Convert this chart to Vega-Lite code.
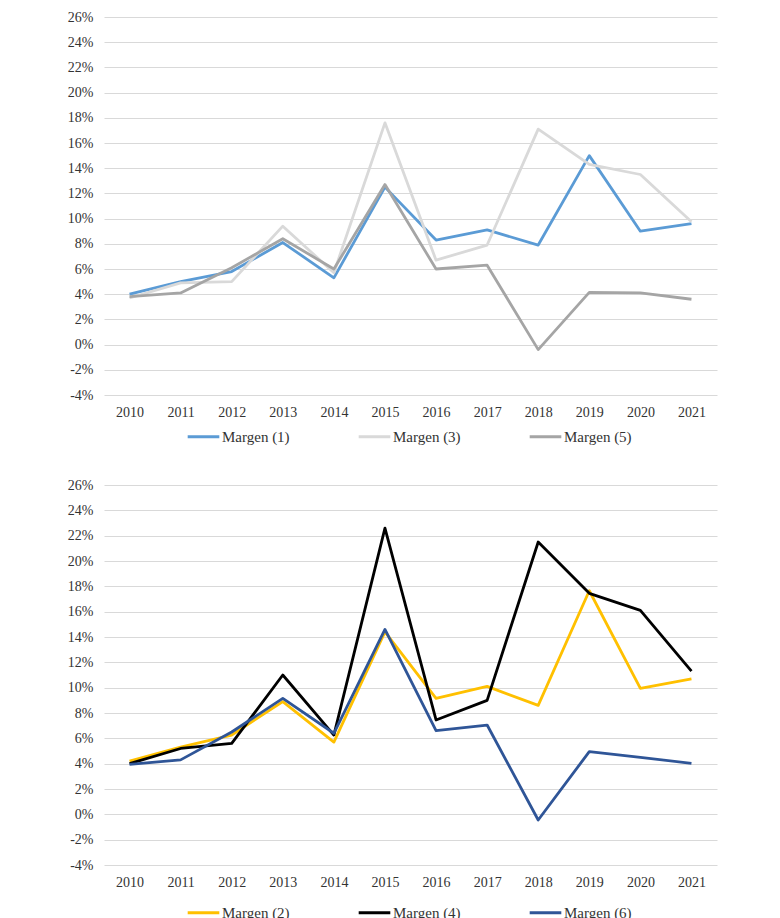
{
  "$schema": "https://vega.github.io/schema/vega-lite/v6.json",
  "padding": {"left": 67, "top": 10, "right": 10, "bottom": 0},
  "background": "white",
  "datasets": {
    "odd": [
      {"year": "2010", "serie": "Margen (1)", "margen": 0.040},
      {"year": "2011", "serie": "Margen (1)", "margen": 0.050},
      {"year": "2012", "serie": "Margen (1)", "margen": 0.058},
      {"year": "2013", "serie": "Margen (1)", "margen": 0.081},
      {"year": "2014", "serie": "Margen (1)", "margen": 0.053},
      {"year": "2015", "serie": "Margen (1)", "margen": 0.125},
      {"year": "2016", "serie": "Margen (1)", "margen": 0.083},
      {"year": "2017", "serie": "Margen (1)", "margen": 0.091},
      {"year": "2018", "serie": "Margen (1)", "margen": 0.079},
      {"year": "2019", "serie": "Margen (1)", "margen": 0.150},
      {"year": "2020", "serie": "Margen (1)", "margen": 0.090},
      {"year": "2021", "serie": "Margen (1)", "margen": 0.096},
      {"year": "2010", "serie": "Margen (3)", "margen": 0.037},
      {"year": "2011", "serie": "Margen (3)", "margen": 0.049},
      {"year": "2012", "serie": "Margen (3)", "margen": 0.050},
      {"year": "2013", "serie": "Margen (3)", "margen": 0.094},
      {"year": "2014", "serie": "Margen (3)", "margen": 0.057},
      {"year": "2015", "serie": "Margen (3)", "margen": 0.176},
      {"year": "2016", "serie": "Margen (3)", "margen": 0.067},
      {"year": "2017", "serie": "Margen (3)", "margen": 0.079},
      {"year": "2018", "serie": "Margen (3)", "margen": 0.171},
      {"year": "2019", "serie": "Margen (3)", "margen": 0.143},
      {"year": "2020", "serie": "Margen (3)", "margen": 0.135},
      {"year": "2021", "serie": "Margen (3)", "margen": 0.0975},
      {"year": "2010", "serie": "Margen (5)", "margen": 0.038},
      {"year": "2011", "serie": "Margen (5)", "margen": 0.041},
      {"year": "2012", "serie": "Margen (5)", "margen": 0.061},
      {"year": "2013", "serie": "Margen (5)", "margen": 0.084},
      {"year": "2014", "serie": "Margen (5)", "margen": 0.060},
      {"year": "2015", "serie": "Margen (5)", "margen": 0.127},
      {"year": "2016", "serie": "Margen (5)", "margen": 0.060},
      {"year": "2017", "serie": "Margen (5)", "margen": 0.063},
      {"year": "2018", "serie": "Margen (5)", "margen": -0.004},
      {"year": "2019", "serie": "Margen (5)", "margen": 0.0415},
      {"year": "2020", "serie": "Margen (5)", "margen": 0.041},
      {"year": "2021", "serie": "Margen (5)", "margen": 0.036}
    ],
    "even": [
      {"year": "2010", "serie": "Margen (2)", "margen": 0.042},
      {"year": "2011", "serie": "Margen (2)", "margen": 0.053},
      {"year": "2012", "serie": "Margen (2)", "margen": 0.0626},
      {"year": "2013", "serie": "Margen (2)", "margen": 0.089},
      {"year": "2014", "serie": "Margen (2)", "margen": 0.057},
      {"year": "2015", "serie": "Margen (2)", "margen": 0.144},
      {"year": "2016", "serie": "Margen (2)", "margen": 0.0915},
      {"year": "2017", "serie": "Margen (2)", "margen": 0.101},
      {"year": "2018", "serie": "Margen (2)", "margen": 0.086},
      {"year": "2019", "serie": "Margen (2)", "margen": 0.1765},
      {"year": "2020", "serie": "Margen (2)", "margen": 0.0995},
      {"year": "2021", "serie": "Margen (2)", "margen": 0.107},
      {"year": "2010", "serie": "Margen (4)", "margen": 0.040},
      {"year": "2011", "serie": "Margen (4)", "margen": 0.052},
      {"year": "2012", "serie": "Margen (4)", "margen": 0.056},
      {"year": "2013", "serie": "Margen (4)", "margen": 0.110},
      {"year": "2014", "serie": "Margen (4)", "margen": 0.0626},
      {"year": "2015", "serie": "Margen (4)", "margen": 0.226},
      {"year": "2016", "serie": "Margen (4)", "margen": 0.0745},
      {"year": "2017", "serie": "Margen (4)", "margen": 0.090},
      {"year": "2018", "serie": "Margen (4)", "margen": 0.215},
      {"year": "2019", "serie": "Margen (4)", "margen": 0.1745},
      {"year": "2020", "serie": "Margen (4)", "margen": 0.161},
      {"year": "2021", "serie": "Margen (4)", "margen": 0.113},
      {"year": "2010", "serie": "Margen (6)", "margen": 0.0395},
      {"year": "2011", "serie": "Margen (6)", "margen": 0.043},
      {"year": "2012", "serie": "Margen (6)", "margen": 0.065},
      {"year": "2013", "serie": "Margen (6)", "margen": 0.0915},
      {"year": "2014", "serie": "Margen (6)", "margen": 0.064},
      {"year": "2015", "serie": "Margen (6)", "margen": 0.146},
      {"year": "2016", "serie": "Margen (6)", "margen": 0.066},
      {"year": "2017", "serie": "Margen (6)", "margen": 0.0705},
      {"year": "2018", "serie": "Margen (6)", "margen": -0.0045},
      {"year": "2019", "serie": "Margen (6)", "margen": 0.0495},
      {"year": "2020", "serie": "Margen (6)", "margen": 0.045},
      {"year": "2021", "serie": "Margen (6)", "margen": 0.0403}
    ]
  },
  "config": {
    "view": {"stroke": null},
    "font": "Liberation Serif",
    "axis": {
      "labelFont": "Liberation Serif",
      "labelFontSize": 14,
      "labelColor": "#333333",
      "title": null,
      "ticks": false,
      "domain": false
    },
    "legend": {
      "labelFont": "Liberation Serif",
      "labelFontSize": 15,
      "labelColor": "#333333",
      "symbolType": "stroke",
      "symbolSize": 1000,
      "symbolStrokeWidth": 3,
      "labelOffset": 1,
      "columnPadding": 62,
      "direction": "horizontal",
      "orient": "none",
      "legendX": 82,
      "legendY": 402,
      "title": null
    }
  },
  "resolve": {"scale": {"color": "independent"}},
  "spacing": 33,
  "vconcat": [
    {
      "width": 613,
      "height": 378,
      "data": {"name": "odd"},
      "mark": {"type": "line", "strokeWidth": 2.8, "strokeJoin": "round"},
      "encoding": {
        "x": {
          "field": "year",
          "type": "ordinal",
          "axis": {"labelAngle": 0, "labelPadding": 10, "grid": false}
        },
        "y": {
          "field": "margen",
          "type": "quantitative",
          "scale": {"domain": [-0.04, 0.26], "nice": false, "zero": false},
          "axis": {
            "values": [-0.04, -0.02, 0, 0.02, 0.04, 0.06, 0.08, 0.1, 0.12, 0.14, 0.16, 0.18, 0.2, 0.22, 0.24, 0.26],
            "format": ".0%",
            "labelExpr": "replace(datum.label, '\u2212', '-')",
            "labelPadding": 11,
            "gridColor": "#D9D9D9",
            "gridWidth": 1.2,
            "gridOpacity": 1
          }
        },
        "color": {
          "field": "serie",
          "type": "nominal",
          "scale": {
            "domain": ["Margen (1)", "Margen (3)", "Margen (5)"],
            "range": ["#5B9BD5", "#D9D9D9", "#A5A5A5"]
          }
        }
      }
    },
    {
      "width": 613,
      "height": 380,
      "data": {"name": "even"},
      "mark": {"type": "line", "strokeWidth": 2.8, "strokeJoin": "round"},
      "encoding": {
        "x": {
          "field": "year",
          "type": "ordinal",
          "axis": {"labelAngle": 0, "labelPadding": 10, "grid": false}
        },
        "y": {
          "field": "margen",
          "type": "quantitative",
          "scale": {"domain": [-0.04, 0.26], "nice": false, "zero": false},
          "axis": {
            "values": [-0.04, -0.02, 0, 0.02, 0.04, 0.06, 0.08, 0.1, 0.12, 0.14, 0.16, 0.18, 0.2, 0.22, 0.24, 0.26],
            "format": ".0%",
            "labelExpr": "replace(datum.label, '\u2212', '-')",
            "labelPadding": 11,
            "gridColor": "#D9D9D9",
            "gridWidth": 1.2,
            "gridOpacity": 1
          }
        },
        "color": {
          "field": "serie",
          "type": "nominal",
          "scale": {
            "domain": ["Margen (2)", "Margen (4)", "Margen (6)"],
            "range": ["#FFC000", "#000000", "#2F5597"]
          },
          "legend": {"legendY": 410}
        }
      }
    }
  ]
}
